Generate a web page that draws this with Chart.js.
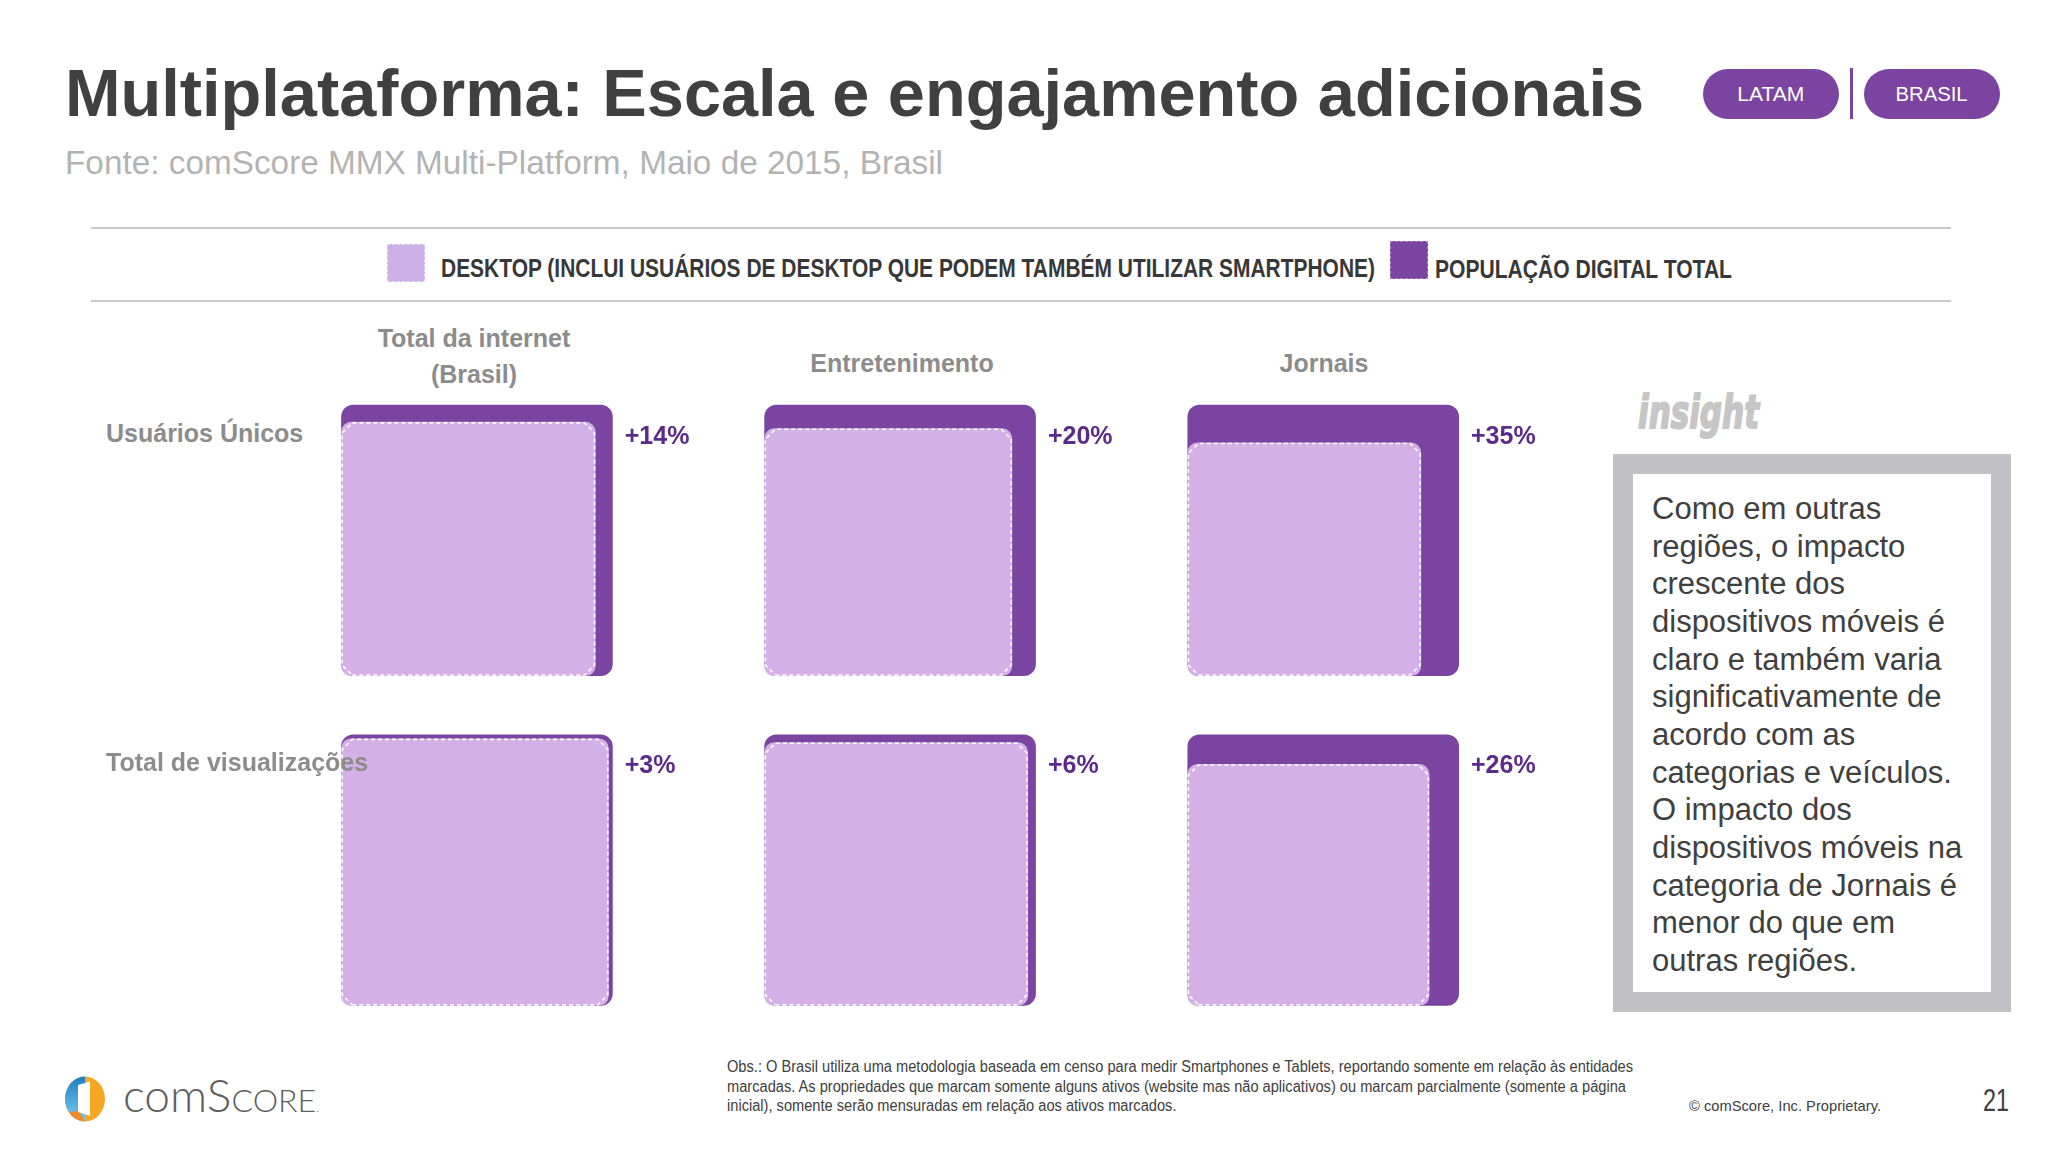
<!DOCTYPE html>
<html lang="pt-BR">
<head>
<meta charset="utf-8">
<title>Multiplataforma: Escala e engajamento adicionais</title>
<script src="https://cdn.jsdelivr.net/npm/chart.js@4.4.1/dist/chart.umd.min.js"></script>
<style>
  html, body { margin: 0; padding: 0; background: #fff; }
  body {
    width: 2048px; height: 1151px; position: relative; overflow: hidden;
    font-family: "Liberation Sans", Arial, Helvetica, sans-serif;
  }
  .abs { position: absolute; white-space: nowrap; line-height: 1; transform-origin: 0 50%; }
  #title { left: 65px; top: 60px; font-size: 66px; font-weight: bold; color: #404040; }
  #subtitle { left: 65px; top: 146px; font-size: 33px; color: #b3b3b3; }
  .pill {
    position: absolute; top: 69px; width: 136px; height: 50px; border-radius: 25px;
    background: #7a44a0; color: #fff; font-size: 20px;
    display: flex; align-items: center; justify-content: center;
  }
  #sep { position: absolute; left: 1850px; top: 68px; width: 3px; height: 51px; background: #7a44a0; }
  .rule { position: absolute; left: 91px; width: 1860px; height: 2px; background: #cacaca; }
  .swatch { position: absolute; width: 38px; height: 38px; box-sizing: border-box; }
  .legend { font-size: 25px; font-weight: bold; color: #383838; }
  .rowlab { left: 106px; font-size: 25px; font-weight: bold; color: #8c8c8c; z-index: 3; }
  .colhead {
    position: absolute; width: 300px; text-align: center; line-height: 36px;
    font-size: 25px; font-weight: bold; color: #8c8c8c;
  }
  #chartWrap { position: absolute; left: 314px; top: 368px; width: 1195px; height: 665px; z-index: 2; }
  .pct { position: absolute; font-size: 25px; font-weight: bold; color: #5c2a8a; line-height: 1; white-space: nowrap; }
  #insightLogo {
    left: 1638px; top: 389px; font-family: "DejaVu Sans", sans-serif; font-size: 46px;
    font-weight: bold; font-style: italic; color: #c6c6c6; -webkit-text-stroke: 2px #c6c6c6;
  }
  #insightBox {
    position: absolute; left: 1613px; top: 454px; width: 398px; height: 558px;
    box-sizing: border-box; border: 20px solid #c1c0c5; background: #fff;
  }
  #insightText {
    position: absolute; left: 1652px; top: 490px; font-size: 31px; line-height: 37.66px;
    color: #404040; white-space: nowrap;
  }
  #note { left: 727px; top: 1057px; font-size: 16px; line-height: 19.5px; color: #404040; }
  #copy { left: 1689px; top: 1098px; font-size: 15px; color: #404040; }
  #page { left: 1983px; top: 1084px; font-size: 32px; color: #404040; }
  #logoIcon { position: absolute; left: 63px; top: 1076px; }
  #logoText { left: 123px; top: 1072px; font-family: Lato, "Liberation Sans", sans-serif; font-weight: 300; font-size: 46px; color: #5e5e5e; }
</style>
</head>
<body>

<div id="title" class="abs" data-w="1579">Multiplataforma: Escala e engajamento adicionais</div>
<div id="subtitle" class="abs" data-w="878">Fonte: comScore MMX Multi-Platform, Maio de 2015, Brasil</div>

<div class="pill" style="left:1703px"><span class="fit" data-w="67">LATAM</span></div>
<div id="sep"></div>
<div class="pill" style="left:1864px"><span class="fit" data-w="72">BRASIL</span></div>

<div class="rule" style="top:227px"></div>
<div class="rule" style="top:300px"></div>

<div class="swatch" style="left:387px; top:244px; background:#cdb0e8; border:1px dashed #e8dcf3;"></div>
<div class="abs legend" id="legDesktop" style="left:441px; top:256px" data-w="934"></div>
<div class="swatch" style="left:1390px; top:241px; background:#7a44a0; border:1px dashed #a88cc0;"></div>
<div class="abs legend" id="legTotal" style="left:1435px; top:257px" data-w="297"></div>

<div class="colhead" id="head0" style="left:324px; top:320px"></div>
<div class="colhead" id="head1" style="left:752px; top:345px"></div>
<div class="colhead" id="head2" style="left:1174px; top:345px"></div>

<div class="abs rowlab" id="row0" style="top:421px"></div>
<div class="abs rowlab" id="row1" style="top:750px"></div>

<div id="chartWrap"><canvas id="chart"></canvas></div>

<div id="insightLogo" class="abs" data-w="121">insight</div>
<div id="insightBox"></div>
<div id="insightText">Como em outras<br>regiões, o impacto<br>crescente dos<br>dispositivos móveis é<br>claro e também varia<br>significativamente de<br>acordo com as<br>categorias e veículos.<br>O impacto dos<br>dispositivos móveis na<br>categoria de Jornais é<br>menor do que em<br>outras regiões.</div>

<svg id="logoIcon" width="44" height="46" viewBox="0 0 44 46">
  <defs>
    <linearGradient id="blu" x1="0" y1="0" x2="0" y2="1">
      <stop offset="0" stop-color="#1d7fc4"/>
      <stop offset="1" stop-color="#7ccbee"/>
    </linearGradient>
  </defs>
  <ellipse cx="22" cy="23" rx="20" ry="22.5" fill="#f7a823"/>
  <path d="M22 0.5 A20 22.5 0 0 0 22 45.5 Z" fill="url(#blu)"/>
  <path d="M6 36 L16 35 L22 45.5 A20 22.5 0 0 1 6 36 Z" fill="#f08a24"/>
  <path d="M15 9 L27 5.5 L27 40 L15 36 Z" fill="#fff"/>
</svg>
<div id="logoText" class="abs" data-w="196">com<span>S</span><span style="font-size:32px">CORE</span><span style="font-size:12px">.</span></div>

<div id="note" class="abs" data-w="906">Obs.: O Brasil utiliza uma metodologia baseada em censo para medir Smartphones e Tablets, reportando somente em relação às entidades<br>marcadas. As propriedades que marcam somente alguns ativos (website mas não aplicativos) ou marcam parcialmente (somente a página<br>inicial), somente serão mensuradas em relação aos ativos marcados.</div>
<div id="copy" class="abs" data-w="192">© comScore, Inc. Proprietary.</div>
<div id="page" class="abs" data-w="26">21</div>

<script>
const categories = [['Total da internet', '(Brasil)'], ['Entretenimento'], ['Jornais']];
const metrics = ['Usuários Únicos', 'Total de visualizações'];
const seriesNames = ['DESKTOP (INCLUI USUÁRIOS DE DESKTOP QUE PODEM TAMBÉM UTILIZAR SMARTPHONE)', 'POPULAÇÃO DIGITAL TOTAL'];
// aumento da população digital total sobre o desktop, em %
const uniqueVisitorsLift = [14, 20, 35];
const totalViewsLift = [3, 6, 26];
const totalIndex = 100; // população digital total = base 100 (área do quadrado)

const lifts = [uniqueVisitorsLift, totalViewsLift];

// textos
document.getElementById('legDesktop').textContent = seriesNames[0];
document.getElementById('legTotal').textContent = seriesNames[1];
categories.forEach((c, i) => { document.getElementById('head' + i).innerHTML = c.join('<br>'); });
metrics.forEach((m, i) => { document.getElementById('row' + i).textContent = m; });

// geometria: lado do quadrado = raiz da área
const PX = 27.15;          // px por unidade
const COL_STEP = 15.58;    // distância entre colunas (unidades)
const ROW_STEP = 12.15;    // distância entre linhas (unidades)
const R_OUT = 12 / PX, R_IN = 10 / PX;

function square(x0, y0, s, inset) {
  return [
    { x: x0 + inset, y: y0 + inset }, { x: x0 + s - inset, y: y0 + inset },
    { x: x0 + s - inset, y: y0 + s - inset }, { x: x0 + inset, y: y0 + s - inset },
    { x: x0 + inset, y: y0 + inset }
  ];
}
function chamfered(x0, y0, s, c, e) {
  const a = x0 + e, b = x0 + s - e, lo = y0 + e, hi = y0 + s - e;
  return [
    { x: a + c, y: lo }, { x: b - c, y: lo }, { x: b, y: lo + c }, { x: b, y: hi - c },
    { x: b - c, y: hi }, { x: a + c, y: hi }, { x: a, y: hi - c }, { x: a, y: lo + c },
    { x: a + c, y: lo }
  ];
}

const datasets = [];
const cells = [];
lifts.forEach((row, r) => {
  row.forEach((lift, c) => {
    const x0 = c * COL_STEP, y0 = (1 - r) * ROW_STEP;
    const outer = Math.sqrt(totalIndex);
    const inner = Math.sqrt(totalIndex / (1 + lift / 100));
    cells.push({ x0, y0, outer, lift });
    datasets.push({
      label: seriesNames[1], data: square(x0, y0, outer, R_OUT), order: 3,
      backgroundColor: '#7a44a0', borderColor: '#7a44a0', borderWidth: 2 * R_OUT * PX,
      borderJoinStyle: 'round', borderCapStyle: 'round', fill: 'shape'
    });
    datasets.push({
      label: seriesNames[0], data: square(x0, y0, inner, R_IN), order: 2,
      backgroundColor: '#d3b0e6', borderColor: '#d3b0e6', borderWidth: 2 * R_IN * PX,
      borderJoinStyle: 'round', borderCapStyle: 'round', fill: 'shape'
    });
    datasets.push({
      label: seriesNames[0], data: chamfered(x0, y0, inner, R_IN, 1 / PX), order: 1,
      borderColor: 'rgba(255,255,255,0.95)', borderWidth: 1.6, borderDash: [4, 3], fill: false
    });
  });
});

const pctLabels = {
  id: 'pctLabels',
  afterDraw(chart) {
    const wrap = document.getElementById('chartWrap');
    wrap.querySelectorAll('.pct').forEach(el => el.remove());
    const xs = chart.scales.x, ys = chart.scales.y;
    cells.forEach(cell => {
      const el = document.createElement('div');
      el.className = 'pct';
      el.textContent = '+' + cell.lift + '%';
      el.style.left = (xs.getPixelForValue(cell.x0 + cell.outer) + 12) + 'px';
      el.style.top = (ys.getPixelForValue(cell.y0 + cell.outer) + 18) + 'px';
      wrap.appendChild(el);
    });
  }
};

new Chart(document.getElementById('chart'), {
  type: 'line',
  data: { datasets },
  plugins: [pctLabels],
  options: {
    responsive: true,
    maintainAspectRatio: false,
    animation: false,
    events: [],
    layout: { padding: 0 },
    elements: { point: { radius: 0 }, line: { tension: 0 } },
    datasets: { line: { clip: false, spanGaps: true } },
    plugins: { legend: { display: false }, tooltip: { enabled: false } },
    scales: {
      x: { type: 'linear', min: -1, max: 43, display: false },
      y: { type: 'linear', min: -1, max: 23.5, display: false }
    }
  }
});

// ajusta largura dos textos condensados
function fitText() {
  document.querySelectorAll('[data-w]').forEach(el => {
    el.style.transform = 'none';
    const w = el.getBoundingClientRect().width;
    el.style.transform = 'scaleX(' + (+el.dataset.w / w).toFixed(4) + ')';
  });
}
document.querySelectorAll('.fit').forEach(el => { el.style.display = 'inline-block'; el.style.transformOrigin = '50% 50%'; });
fitText();
if (document.fonts && document.fonts.ready) document.fonts.ready.then(fitText);
</script>
</body>
</html>
